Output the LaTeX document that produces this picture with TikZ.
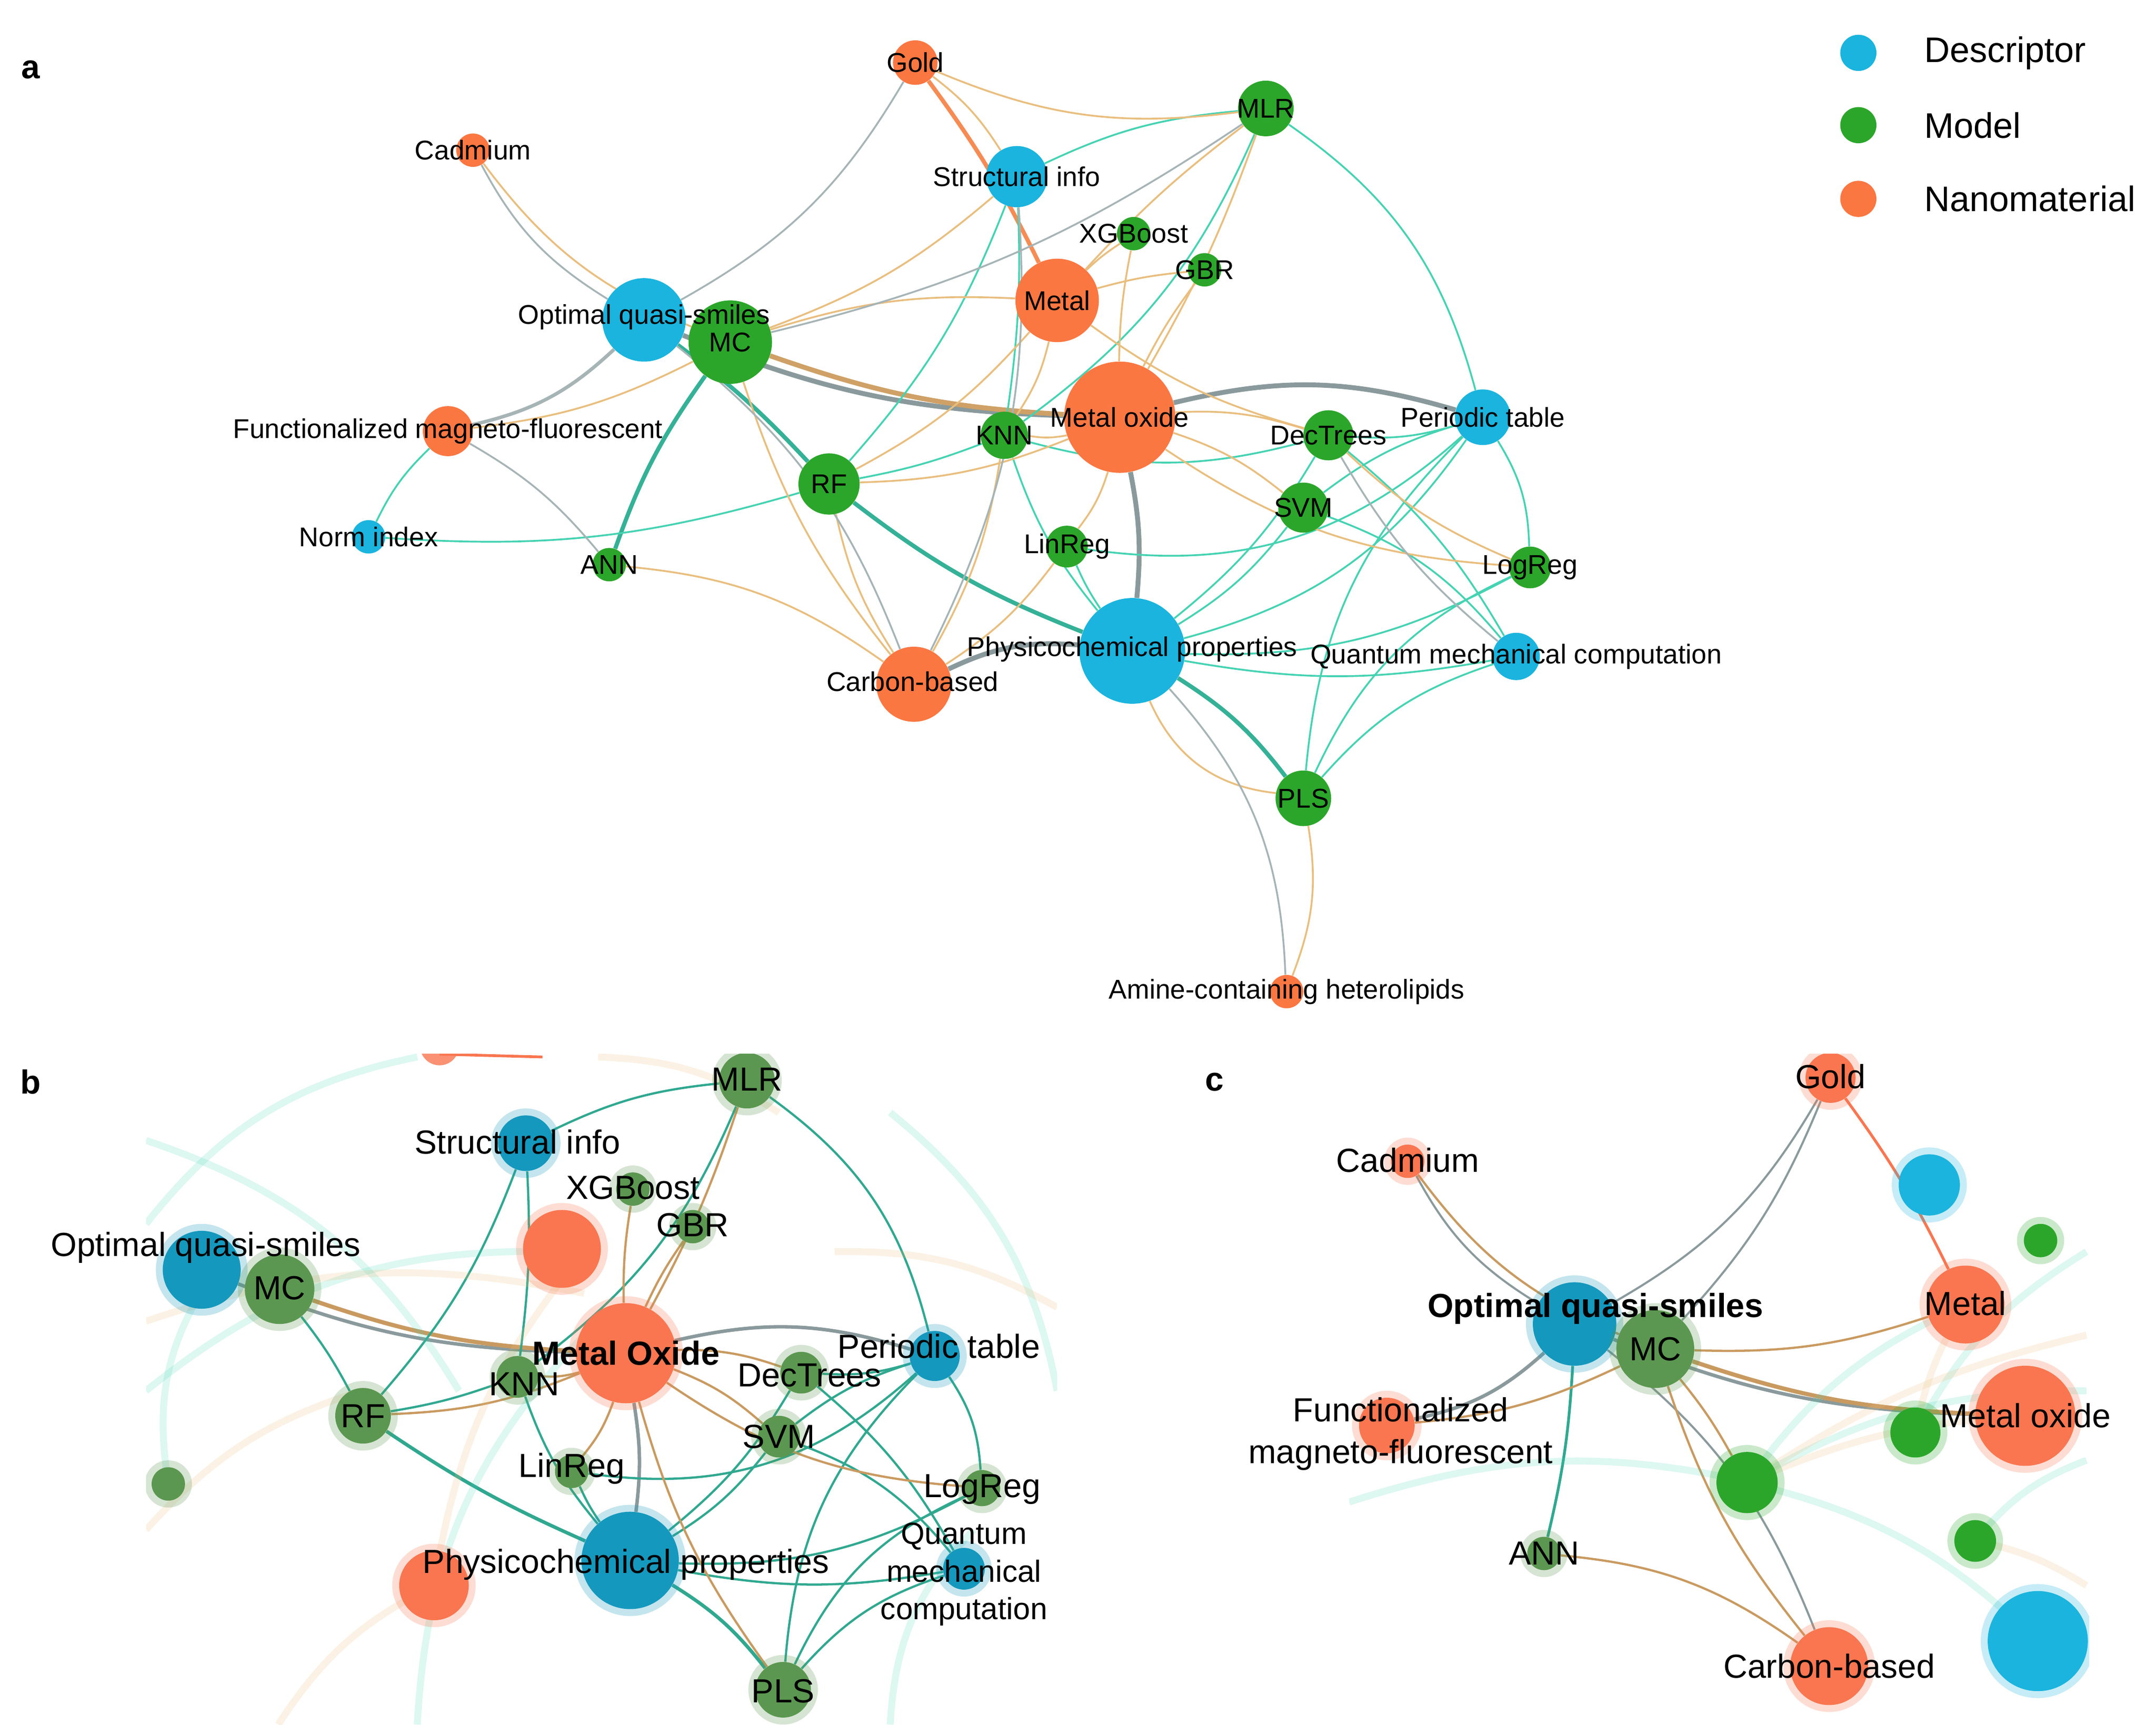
\documentclass[tikz,border=0pt]{standalone}
\usepackage{fontspec}
\setmainfont{Liberation Sans}
\usetikzlibrary{backgrounds}
\definecolor{cb}{HTML}{1AB4DE}\definecolor{cg}{HTML}{2BA62A}\definecolor{co}{HTML}{FB7742}
\definecolor{cbd}{HTML}{1598BD}\definecolor{cgd}{HTML}{5B9750}\definecolor{cod}{HTML}{F97650}
\definecolor{ct}{HTML}{45D3B2}\definecolor{cn}{HTML}{E9BE7E}\definecolor{cy}{HTML}{A6B4B6}
\definecolor{ctd}{HTML}{30A890}\definecolor{cnd}{HTML}{C99A60}\definecolor{cyd}{HTML}{8A9A9C}
\tikzset{lab/.style={font=\fontsize{19.5}{22}\selectfont,inner sep=0},
 labb/.style={font=\fontsize{24}{27}\selectfont,inner sep=0,align=center},
 te/.style={ct,line width=1.3pt},tn/.style={cn,line width=1.3pt},ty/.style={cy,line width=1.3pt},
 teT/.style={ctd!80!ct,line width=3pt},tnT/.style={cnd!80!cn,line width=3.5pt},tyT/.style={cyd,line width=3.5pt},
 tsT/.style={co!70!cn,line width=3pt},
 fe/.style={ct,line width=5pt,opacity=0.18},fn/.style={cn,line width=5pt,opacity=0.2},
 be/.style={ctd,line width=1.6pt},bn/.style={cnd,line width=1.6pt},by/.style={cyd,line width=2.5pt}}
\newcommand\N[6]{\node[circle,inner sep=0,minimum size=#4pt,fill=#5,label={[lab]center:#6}] (#1) at (#2,#3) {};}
\newcommand\G[6]{\fill[#5,opacity=0.25] (#2,#3) circle ({#4/2+5pt});\node[circle,inner sep=0,minimum size=#4pt,fill=#5] (#1) at (#2,#3) {};}
\begin{document}
\begin{tikzpicture}[x=1pt,y=-1pt]
\useasboundingbox (0,0) rectangle (1550,1240);
% ---------- panel a
\node[font=\fontsize{24}{26}\selectfont\bfseries] at (22,50) {a};
\N{gold}{658}{45}{32}{co}{Gold}
\N{cad}{340}{108}{24}{co}{Cadmium}
\N{mlr}{910}{78}{40}{cg}{MLR}
\N{str}{731}{127}{44}{cb}{Structural info}
\N{xgb}{815}{168}{24}{cg}{XGBoost}
\N{gbr}{866}{194}{24}{cg}{GBR}
\N{met}{760}{216}{60}{co}{Metal}
\N{opt}{463}{230}{60}{cb}{}
\N{mc}{525}{246}{60}{cg}{MC}
\node[lab] at (463,228) {Optimal quasi-smiles};
\N{fun}{322}{310}{36}{co}{Functionalized magneto-fluorescent}
\N{mox}{805}{300}{80}{co}{Metal oxide}
\N{knn}{722}{313}{34}{cg}{KNN}
\N{dec}{955}{313}{36}{cg}{DecTrees}
\N{per}{1066}{300}{40}{cb}{Periodic table}
\N{rf}{596}{348}{44}{cg}{RF}
\N{nor}{265}{386}{24}{cb}{Norm index}
\N{ann}{438}{406}{24}{cg}{ANN}
\N{svm}{937}{365}{36}{cg}{SVM}
\N{lin}{767}{393}{30}{cg}{LinReg}
\N{log}{1100}{408}{30}{cg}{LogReg}
\N{phy}{814}{468}{76}{cb}{}
\N{car}{657}{492}{54}{co}{}
\node[lab] at (656,490) {Carbon-based};
\node[lab] at (814,467) {Physicochemical properties};
\N{qua}{1090}{472}{34}{cb}{Quantum mechanical computation}
\N{pls}{937}{574}{40}{cg}{PLS}
\N{ami}{925}{713}{24}{co}{Amine-containing heterolipids}
\begin{pgfonlayer}{background}
\draw[tsT] (gold) to[bend left=5] (met);
\draw[tyT] (opt) to[bend right=10] (mox);
\draw[tnT] (mc) to[bend right=8] (mox);
\draw[teT] (rf) to[bend right=8] (phy);
\draw[teT] (phy) to[bend left=10] (pls);
\draw[tyT] (mox) to[bend left=8] (phy);
\draw[tyT] (mox) to[bend left=15] (per);
\draw[tyT] (car) to[bend left=15] (phy);
\draw[teT] (opt) to[bend left=5] (rf);
\draw[teT] (mc) to[bend right=8] (ann);
\draw[ty,line width=2.5pt] (opt) to[bend left=15] (fun);
\foreach \a/\b/\c in {str/mlr/10,mlr/per/20,mlr/knn/15,str/rf/10,str/knn/5,nor/fun/10,nor/rf/-10,per/dec/10,per/svm/-10,
 per/log/15,per/pls/-20,qua/pls/-15,qua/svm/-15,qua/dec/-10,qua/phy/10,phy/svm/-10,phy/dec/-10,phy/log/-15,phy/knn/10,
 phy/lin/5,phy/per/-20,lin/per/-25,pls/log/20,knn/dec/-15,rf/knn/-5}
 \draw[te] (\a) to[bend left=\c] (\b);
\foreach \a/\b/\c in {met/mlr/5,met/xgb/5,met/gbr/5,mox/mlr/-5,mox/xgb/5,mox/gbr/5,mox/rf/10,mox/knn/10,mox/dec/10,
 mox/svm/10,mox/lin/10,met/rf/10,met/knn/10,met/dec/-10,met/mc/-10,car/ann/-15,car/rf/10,car/mc/10,cad/mc/-15,
 fun/mc/-10,ami/pls/-15,mox/log/-15,car/knn/-10,gold/mlr/-15,gold/str/10,str/mc/10,phy/pls/-30,car/lin/-10,dec/log/-10}
 \draw[tn] (\a) to[bend left=\c] (\b);
\foreach \a/\b/\c in {opt/cad/15,opt/car/15,opt/gold/-15,ami/phy/-20,str/car/15,mc/mlr/-10,fun/ann/10,qua/dec/10}
 \draw[ty] (\a) to[bend left=\c] (\b);
\end{pgfonlayer}
% legend
\fill[cb] (1336,38) circle (13);\node[anchor=west,font=\fontsize{25.5}{28}\selectfont] at (1380,38) {Descriptor};
\fill[cg] (1336,90) circle (13);\node[anchor=west,font=\fontsize{25.5}{28}\selectfont] at (1380,90) {Model};
\fill[co] (1336,143) circle (13);\node[anchor=west,font=\fontsize{25.5}{28}\selectfont] at (1380,143) {Nanomaterial};
% ---------- panel b
\node[font=\fontsize{24}{26}\selectfont\bfseries] at (22,778) {b};
\begin{scope}
\clip (105,758) rectangle (760,1240);
\foreach \ax/\ay/\bx/\by in {105/820/330/1000,105/1000/400/900,120/1060/150/920,300/1240/420/960,640/1240/700/1100,105/880/300/760,640/800/760/1000}
 \draw[fe] (\ax,\ay) to[bend left=20] (\bx,\by);
\foreach \ax/\ay/\bx/\by in {105/950/420/930,200/1240/312/1140,312/1140/420/900,430/760/560/800,105/1100/260/1000,600/900/760/940}
 \draw[fn] (\ax,\ay) to[bend left=15] (\bx,\by);
\draw[cod,line width=2pt] (316,758) -- (390,760);
\G{bstr}{378}{822}{40}{cbd}{}
\G{bmlr}{537}{777}{40}{cgd}{}
\G{bxgb}{455}{855}{24}{cgd}{}
\G{bgbr}{498}{882}{24}{cgd}{}
\G{bmet}{404}{898}{56}{cod}{}
\G{bopt}{145}{913}{56}{cbd}{}
\G{bmc}{201}{927}{50}{cgd}{}
\G{bmox}{450}{973}{72}{cod}{}
\G{bknn}{372}{990}{30}{cgd}{}
\G{bdec}{576}{987}{30}{cgd}{}
\G{bper}{672}{975}{36}{cbd}{}
\G{brf}{261}{1018}{40}{cgd}{}
\G{bsvm}{560}{1033}{30}{cgd}{}
\G{blin}{411}{1058}{24}{cgd}{}
\G{blog}{706}{1070}{26}{cgd}{}
\G{bg1}{121}{1067}{24}{cgd}{}
\G{bphy}{453}{1122}{70}{cbd}{}
\G{bcar}{312}{1140}{50}{cod}{}
\G{bqua}{693}{1128}{30}{cbd}{}
\G{bpls}{563}{1215}{40}{cgd}{}
\fill[cod,opacity=0.8] (316,752) circle (14);
\end{scope}
\begin{pgfonlayer}{background}
\draw[by] (bopt) to[bend right=10] (bmox);
\draw[bn,line width=3pt] (bmc) to[bend right=8] (bmox);
\draw[be,line width=2.5pt] (brf) to[bend right=5] (bphy);
\draw[be,line width=2.5pt] (bphy) to[bend left=10] (bpls);
\draw[by] (bmox) to[bend left=15] (bper);
\draw[by] (bmox) to[bend left=8] (bphy);
\foreach \a/\b/\c in {bstr/bmlr/10,bmlr/bper/20,bmlr/bknn/15,bstr/brf/10,bstr/bknn/5,bper/bdec/10,bper/bsvm/-10,
 bper/blog/15,bper/bpls/-20,bqua/bpls/-15,bqua/bsvm/-15,bqua/bdec/-10,bqua/bphy/10,bphy/bsvm/-10,bphy/bdec/-10,
 bphy/blog/-15,bphy/bknn/10,bphy/blin/5,blin/bper/-25,bpls/blog/20,bmc/brf/5,brf/bknn/-5}
 \draw[be] (\a) to[bend left=\c] (\b);
\foreach \a/\b/\c in {bmox/bmlr/-5,bmox/bxgb/5,bmox/bgbr/5,bmox/brf/10,bmox/bknn/10,bmox/bdec/10,bmox/bsvm/10,
 bmox/blin/10,bmox/blog/-15,bmox/bpls/-10}
 \draw[bn] (\a) to[bend left=\c] (\b);
\end{pgfonlayer}
\node[labb] at (372,821) {Structural info};
\node[labb] at (537,776) {MLR};
\node[labb] at (455,854) {XGBoost};
\node[labb] at (498,881) {GBR};
\node[labb] at (148,897) {Optimal quasi-smiles};
\node[labb] at (201,926) {MC};
\node[labb,font=\fontsize{24}{27}\selectfont\bfseries] at (450,973) {Metal Oxide};
\node[labb] at (377,995) {KNN};
\node[labb] at (582,989) {DecTrees};
\node[labb] at (675,968) {Periodic table};
\node[labb] at (261,1018) {RF};
\node[labb] at (560,1033) {SVM};
\node[labb] at (411,1056) {LinReg};
\node[labb] at (706,1071) {LogReg};
\node[labb] at (450,1125) {Physicochemical properties};
\node[labb,align=center,font=\fontsize{22}{27}\selectfont] at (693,1132) {Quantum\\mechanical\\computation};
\node[labb] at (563,1216) {PLS};
% ---------- panel c
\node[font=\fontsize{24}{26}\selectfont\bfseries] at (873,778) {c};
\begin{scope}
\clip (970,758) rectangle (1502,1240);
\foreach \ax/\ay/\bx/\by in {970/1080/1260/1066,1256/1066/1465/1180,1377/1030/1500/900,1256/1066/1500/1000,1420/1108/1500/1050,1256/1066/1413/938}
 \draw[fe] (\ax,\ay) to[bend left=15] (\bx,\by);
\foreach \ax/\ay/\bx/\by in {1256/1066/1456/1018,1377/1030/1413/938,1420/1108/1500/1140,1256/1066/1500/960}
 \draw[fn] (\ax,\ay) to[bend left=10] (\bx,\by);
\G{cgold}{1316}{775}{36}{cod}{}
\G{ccad}{1012}{835}{24}{cod}{}
\G{cblu}{1387}{852}{44}{cb}{}
\G{cg1}{1467}{892}{24}{cg}{}
\G{cmet}{1413}{938}{56}{cod}{}
\G{copt}{1132}{952}{60}{cbd}{}
\G{cmc}{1190}{970}{56}{cgd}{}
\G{cfun}{997}{1025}{40}{cod}{}
\G{cmox}{1456}{1018}{72}{cod}{}
\G{cg2}{1377}{1030}{36}{cg}{}
\G{cg3}{1256}{1066}{44}{cg}{}
\G{cg4}{1420}{1108}{30}{cg}{}
\G{cann}{1110}{1117}{24}{cgd}{}
\G{cphy}{1465}{1180}{72}{cb}{}
\G{ccar}{1315}{1198}{56}{cod}{}
\end{scope}
\begin{pgfonlayer}{background}
\draw[cod,line width=2pt] (cgold) to[bend left=5] (cmet);
\draw[by] (copt) to[bend right=10] (cmox);
\draw[bn,line width=3pt] (cmc) to[bend right=8] (cmox);
\draw[be,line width=2pt] (copt) to[bend left=5] (cann);
\draw[by] (copt) to[bend left=15] (cfun);
\foreach \a/\b/\c in {copt/ccad/15,copt/ccar/15,copt/cgold/-15,cmc/cgold/-10}
 \draw[cyd,line width=1.5pt] (\a) to[bend left=\c] (\b);
\foreach \a/\b/\c in {ccad/cmc/-15,cfun/cmc/-10,ccar/cann/-15,ccar/cmc/10,cmc/cmet/-10,cmc/cg3/5}
 \draw[bn] (\a) to[bend left=\c] (\b);
\end{pgfonlayer}
\node[labb] at (1316,774) {Gold};
\node[labb] at (1012,834) {Cadmium};
\node[labb,font=\fontsize{24}{27}\selectfont\bfseries] at (1147,941) {Optimal quasi-smiles};
\node[labb] at (1190,970) {MC};
\node[labb] at (1413,937) {Metal};
\node[labb,align=center,font=\fontsize{24}{30}\selectfont] at (1007,1031) {Functionalized\\magneto-fluorescent};
\node[labb] at (1456,1018) {Metal oxide};
\node[labb] at (1110,1117) {ANN};
\node[labb] at (1315,1198) {Carbon-based};
\end{tikzpicture}
\end{document}
